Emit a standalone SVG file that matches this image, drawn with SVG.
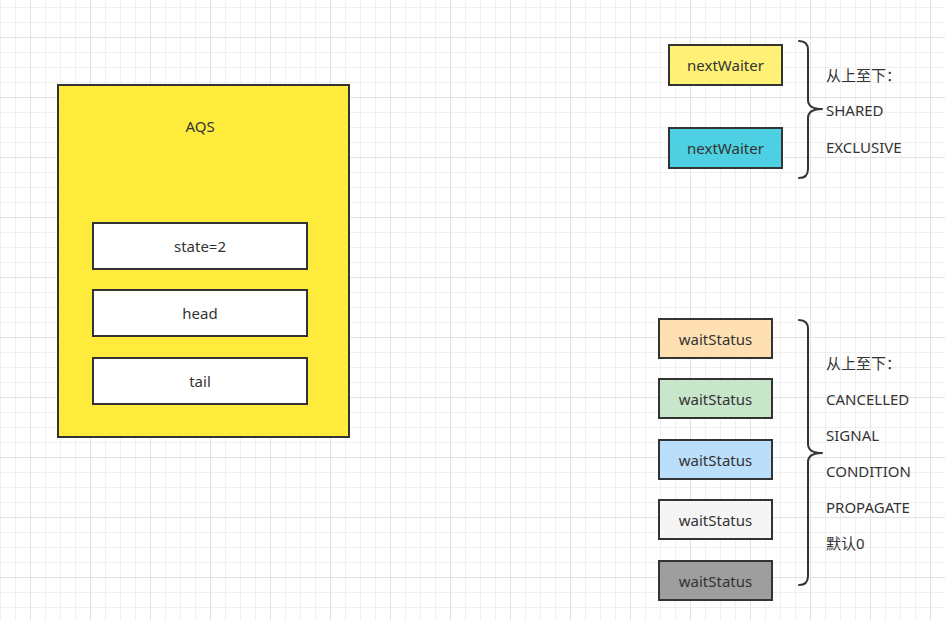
<svg xmlns="http://www.w3.org/2000/svg" width="945" height="621" viewBox="0 0 945 621">
<style>
.box{stroke:#333333;stroke-width:2}
.lbl{font-family:"Noto Sans","Noto Sans CJK SC",sans-serif;font-size:15px;fill:#333333}
.c{text-anchor:middle}
.brace{fill:none;stroke:#333333;stroke-width:2;stroke-linecap:round;stroke-linejoin:round}
</style>
<defs>
<pattern id="grid" patternUnits="userSpaceOnUse" x="30" y="37" width="60" height="60">
<rect x="0" y="0" width="60" height="60" fill="#ffffff"/>
<rect x="15" y="0" width="1" height="60" fill="#f0f0f0"/>
<rect x="30" y="0" width="1" height="60" fill="#f0f0f0"/>
<rect x="45" y="0" width="1" height="60" fill="#f0f0f0"/>
<rect x="0" y="15" width="60" height="1" fill="#f0f0f0"/>
<rect x="0" y="30" width="60" height="1" fill="#f0f0f0"/>
<rect x="0" y="45" width="60" height="1" fill="#f0f0f0"/>
<rect x="0" y="0" width="1" height="60" fill="#e2e2e2"/>
<rect x="0" y="0" width="60" height="1" fill="#e2e2e2"/>
</pattern>
</defs>
<rect x="0" y="0" width="945" height="621" fill="url(#grid)"/>

<g id="aqs">
<rect class="box" x="58" y="85" width="291" height="352" fill="#FFEB3B"/>
<text class="lbl c" x="200" y="132">AQS</text>
</g>
<g id="state">
<rect class="box" x="93" y="223" width="214" height="46" fill="#ffffff"/>
<text class="lbl c" x="200" y="252">state=2</text>
</g>
<g id="head">
<rect class="box" x="93" y="290" width="214" height="46" fill="#ffffff"/>
<text class="lbl c" x="200" y="319">head</text>
</g>
<g id="tail">
<rect class="box" x="93" y="358" width="214" height="46" fill="#ffffff"/>
<text class="lbl c" x="200" y="387">tail</text>
</g>

<g id="nextWaiter1">
<rect class="box" x="669" y="45" width="113" height="40" fill="#FFF176"/>
<text class="lbl c" x="725.5" y="71">nextWaiter</text>
</g>
<g id="nextWaiter2">
<rect class="box" x="669" y="128" width="113" height="40" fill="#4DD0E1"/>
<text class="lbl c" x="725.5" y="154">nextWaiter</text>
</g>

<g id="waitStatus1">
<rect class="box" x="659" y="319" width="113" height="39" fill="#FFE0B2"/>
<text class="lbl c" x="715.5" y="345">waitStatus</text>
</g>
<g id="waitStatus2">
<rect class="box" x="659" y="379" width="113" height="39" fill="#C8E6C9"/>
<text class="lbl c" x="715.5" y="405">waitStatus</text>
</g>
<g id="waitStatus3">
<rect class="box" x="659" y="440" width="113" height="39" fill="#BBDEFB"/>
<text class="lbl c" x="715.5" y="466">waitStatus</text>
</g>
<g id="waitStatus4">
<rect class="box" x="659" y="500" width="113" height="39" fill="#F5F5F5"/>
<text class="lbl c" x="715.5" y="526">waitStatus</text>
</g>
<g id="waitStatus5">
<rect class="box" x="659" y="561" width="113" height="39" fill="#9E9E9E"/>
<text class="lbl c" x="715.5" y="587">waitStatus</text>
</g>

<g id="brace1">
<path class="brace" d="M799,41 Q808,41 808,50 L808,100 Q808,109 822,109 Q808,109 808,118 L808,169 Q808,178 799,178"/>
<text class="lbl" x="826" y="81">从上至下：</text>
<text class="lbl" x="826" y="116">SHARED</text>
<text class="lbl" x="826" y="153">EXCLUSIVE</text>
</g>

<g id="brace2">
<path class="brace" d="M799,320 Q808,320 808,329 L808,444 Q808,453 822,453 Q808,453 808,462 L808,576 Q808,585 799,585"/>
<text class="lbl" x="826" y="369">从上至下：</text>
<text class="lbl" x="826" y="405">CANCELLED</text>
<text class="lbl" x="826" y="441">SIGNAL</text>
<text class="lbl" x="826" y="477">CONDITION</text>
<text class="lbl" x="826" y="513">PROPAGATE</text>
<text class="lbl" x="826" y="549">默认0</text>
</g>

<g id="connectors"></g>
</svg>
